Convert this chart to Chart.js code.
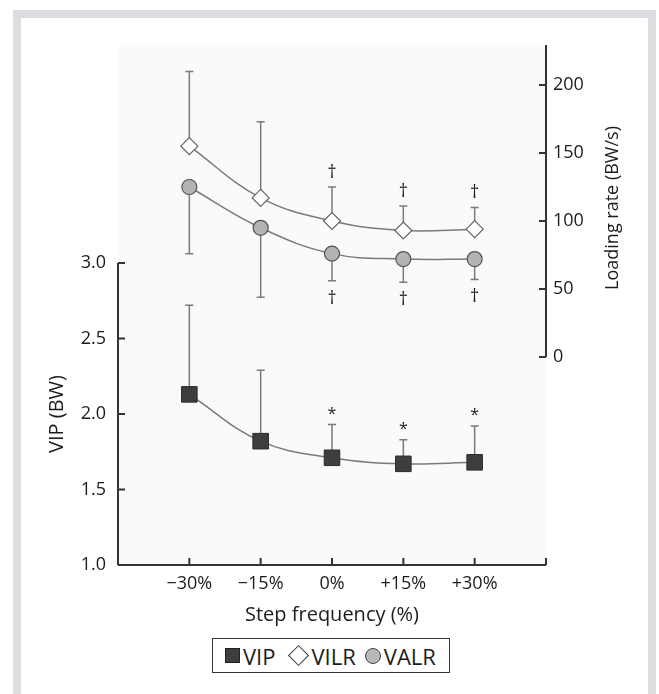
<!DOCTYPE html>
<html>
<head>
<meta charset="utf-8">
<script src="https://cdn.jsdelivr.net/npm/chart.js@4.4.1/dist/chart.umd.min.js"></script>
<style>
  html, body { margin: 0; padding: 0; background: #fff; }
  body { width: 659px; height: 694px; position: relative; overflow: hidden; font-family: 'Open Sans', sans-serif; color: #1c1c1c; }
  #frame { position: absolute; left: 13px; top: 10px; right: 3px; bottom: 0; border: 8px solid #dcdde0; border-bottom: none; }
  #chart { position: absolute; left: 0; top: 0; }
  #legend { position: absolute; left: 212px; top: 638px; width: 236px; height: 33px; border: 1.5px solid #333;
            display: flex; align-items: center; font-size: 22px; line-height: 22px; color: #1c1c1c; background: #fff; }
  #legend .sq { width: 13px; height: 13px; background: #3e3e3e; border: 1px solid #222; margin: 0 3px 0 12px; }
  #legend .dm { width: 13px; height: 13px; background: #fff; border: 1.5px solid #333; transform: rotate(45deg); margin: 0 6px 0 15px; }
  #legend .ci { width: 14px; height: 14px; background: #b8b8b8; border: 1.5px solid #444; border-radius: 50%; margin: 0 3px 0 9px; }
</style>
</head>
<body>
<div id="frame"></div>
<canvas id="chart" width="659" height="694"></canvas>
<div id="legend"><span class="sq"></span>VIP<span class="dm"></span>VILR<span class="ci"></span>VALR</div>
<script>
  // step frequency conditions
  const steps = [-30, -15, 0, 15, 30];
  const stepLabels = ['\u221230%', '\u221215%', '0%', '+15%', '+30%'];

  // VIP (BW), mean and SD (upward bars)
  const vip = [2.13, 1.82, 1.71, 1.67, 1.68];
  const vipSd = [0.59, 0.47, 0.22, 0.16, 0.24];
  const vipMarks = ['', '', '*', '*', '*'];

  // VILR (BW/s), mean and SD (upward bars)
  const vilr = [155, 117, 100, 93, 94];
  const vilrSd = [55, 56, 25, 18, 16];
  const vilrMarks = ['', '', '\u2020', '\u2020', '\u2020'];

  // VALR (BW/s), mean and SD (downward bars)
  const valr = [125, 95, 76, 72, 72];
  const valrSd = [49, 51, 20, 17, 15];
  const valrMarks = ['', '', '\u2020', '\u2020', '\u2020'];

  const vipTicks = [1, 1.5, 2, 2.5, 3];
  const rateTicks = [0, 50, 100, 150, 200];

  const pts = vals => vals.map((v, i) => ({x: steps[i], y: v}));
  const FONT = "'Open Sans', sans-serif";

  const decor = {
    id: 'decor',
    beforeDraw(chart){
      const {ctx, chartArea: a} = chart;
      ctx.save();
      ctx.fillStyle = '#fafafa';
      ctx.fillRect(a.left, a.top, a.right - a.left, a.bottom - a.top);
      ctx.restore();
    },
    beforeDatasetsDraw(chart){
      // error bars
      const ctx = chart.ctx, xs = chart.scales.x;
      ctx.save();
      ctx.strokeStyle = '#7a7a7a';
      ctx.lineWidth = 1.5;
      chart.data.datasets.forEach(ds => {
        const ys = chart.scales[ds.yAxisID];
        ds.data.forEach((p, j) => {
          const x = xs.getPixelForValue(p.x);
          const y0 = ys.getPixelForValue(p.y);
          const y1 = ys.getPixelForValue(p.y + ds.errDir * ds.err[j]);
          ctx.beginPath();
          ctx.moveTo(x, y0); ctx.lineTo(x, y1);
          ctx.moveTo(x - 4, y1); ctx.lineTo(x + 4, y1);
          ctx.stroke();
        });
      });
      ctx.restore();
    },
    afterDraw(chart){
      const {ctx, chartArea: a} = chart;
      const xs = chart.scales.x, yl = chart.scales.y, yr = chart.scales.y2;
      ctx.save();
      ctx.strokeStyle = '#333';
      ctx.lineWidth = 2;
      const base = yl.getPixelForValue(yl.min);
      ctx.beginPath();
      // x axis with inward ticks
      ctx.moveTo(xs.getPixelForValue(xs.min), base);
      ctx.lineTo(xs.getPixelForValue(xs.max), base);
      steps.concat([xs.max]).forEach(v => {
        const x = xs.getPixelForValue(v);
        ctx.moveTo(x, base); ctx.lineTo(x, base - 7);
      });
      // left axis
      ctx.moveTo(a.left, base);
      ctx.lineTo(a.left, yl.getPixelForValue(vipTicks[vipTicks.length - 1]));
      vipTicks.forEach(v => {
        const y = yl.getPixelForValue(v);
        ctx.moveTo(a.left, y); ctx.lineTo(a.left + 7, y);
      });
      // right axis
      ctx.moveTo(a.right, yr.getPixelForValue(0));
      ctx.lineTo(a.right, a.top);
      rateTicks.forEach(v => {
        const y = yr.getPixelForValue(v);
        ctx.moveTo(a.right, y); ctx.lineTo(a.right - 7, y);
      });
      ctx.stroke();

      // significance marks
      ctx.fillStyle = '#1c1c1c';
      ctx.textAlign = 'center';
      ctx.textBaseline = 'alphabetic';
      chart.data.datasets.forEach(ds => {
        const ys = chart.scales[ds.yAxisID];
        ds.data.forEach((p, j) => {
          const m = ds.marks[j];
          if (!m) return;
          const x = xs.getPixelForValue(p.x);
          const y1 = ys.getPixelForValue(p.y + ds.errDir * ds.err[j]);
          if (m === '*') {
            ctx.font = '16px ' + FONT;
            ctx.fillText(m, x, y1 - 6);
          } else if (ds.errDir > 0) {
            ctx.font = '18px ' + FONT;
            ctx.fillText(m, x, y1 - 9);
          } else {
            ctx.font = '18px ' + FONT;
            ctx.fillText(m, x, y1 + 23);
          }
        });
      });

      // axis titles
      ctx.textBaseline = 'middle';
      ctx.font = '20px ' + FONT;
      ctx.fillText('Step frequency (%)', (a.left + a.right) / 2, 615);
      ctx.save();
      ctx.translate(57, (base + yl.getPixelForValue(3)) / 2);
      ctx.rotate(-Math.PI / 2);
      ctx.fillText('VIP (BW)', 0, 0);
      ctx.restore();
      ctx.font = '18px ' + FONT;
      ctx.save();
      ctx.translate(613, 208);
      ctx.rotate(-Math.PI / 2);
      ctx.fillText('Loading rate (BW/s)', 0, 0);
      ctx.restore();
      ctx.restore();
    }
  };

  Chart.defaults.font.family = FONT;
  Chart.defaults.font.size = 18;
  Chart.defaults.color = '#1c1c1c';

  new Chart(document.getElementById('chart'), {
    type: 'line',
    data: {
      datasets: [
        { label: 'VIP', data: pts(vip), err: vipSd, errDir: 1, marks: vipMarks, yAxisID: 'y',
          borderColor: '#7a7a7a', borderWidth: 1.5, tension: 0.4, fill: false,
          pointStyle: 'rect', pointRadius: 11, pointBackgroundColor: '#3e3e3e',
          pointBorderColor: '#2a2a2a', pointBorderWidth: 1 },
        { label: 'VILR', data: pts(vilr), err: vilrSd, errDir: 1, marks: vilrMarks, yAxisID: 'y2',
          borderColor: '#7a7a7a', borderWidth: 1.5, tension: 0.4, fill: false,
          pointStyle: 'rectRot', pointRadius: 8.5, pointBackgroundColor: '#fff',
          pointBorderColor: '#666', pointBorderWidth: 1.2 },
        { label: 'VALR', data: pts(valr), err: valrSd, errDir: -1, marks: valrMarks, yAxisID: 'y2',
          borderColor: '#7a7a7a', borderWidth: 1.5, tension: 0.4, fill: false,
          pointStyle: 'circle', pointRadius: 7.5, pointBackgroundColor: '#b4b4b4',
          pointBorderColor: '#555', pointBorderWidth: 1.2 }
      ]
    },
    options: {
      responsive: false,
      animation: false,
      devicePixelRatio: 1,
      events: [],
      layout: { padding: { top: 45, left: 0, right: 0, bottom: 0 } },
      plugins: { legend: { display: false }, tooltip: { enabled: false } },
      scales: {
        x: {
          type: 'linear', min: -45, max: 45,
          grid: { display: false, drawTicks: false }, border: { display: false },
          afterBuildTicks: s => { s.ticks = steps.map(v => ({value: v})); },
          afterFit: s => { s.height = 129; },
          ticks: { padding: 8, autoSkip: false, maxRotation: 0,
                   callback: v => stepLabels[steps.indexOf(v)] || '' }
        },
        y: {
          position: 'left', min: 1, max: 1 + 520 / 151,
          grid: { display: false, drawTicks: false }, border: { display: false },
          afterBuildTicks: s => { s.ticks = vipTicks.map(v => ({value: v})); },
          afterFit: s => { s.width = 118; },
          ticks: { padding: 12, callback: v => v.toFixed(1) }
        },
        y2: {
          position: 'right', min: -208 / 1.36, max: 312 / 1.36,
          grid: { display: false, drawTicks: false }, border: { display: false },
          afterBuildTicks: s => { s.ticks = rateTicks.map(v => ({value: v})); },
          afterFit: s => { s.width = 113; },
          ticks: { padding: 7 }
        }
      }
    },
    plugins: [decor]
  });
</script>
</body>
</html>
